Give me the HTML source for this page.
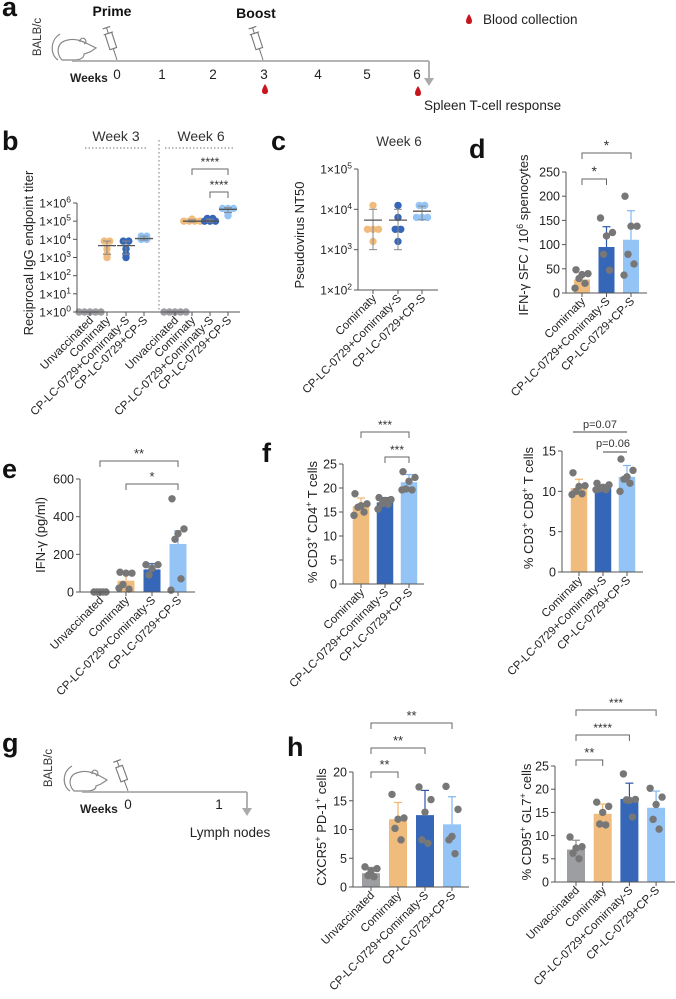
<!DOCTYPE html>
<html><head><meta charset="utf-8">
<style>
html,body{margin:0;padding:0;background:#fff;}
svg{display:block;font-family:"Liberation Sans",sans-serif;}
</style></head>
<body>
<svg id="fig" width="676" height="999" viewBox="0 0 676 999" xmlns="http://www.w3.org/2000/svg"></svg>
<script>
// ---------------- DATA ----------------
const catsB = ["Unvaccinated","Comirnaty","CP-LC-0729+Comirnaty-S","CP-LC-0729+CP-S","Unvaccinated","Comirnaty","CP-LC-0729+Comirnaty-S","CP-LC-0729+CP-S"];
const bPoints = [[1,1,1,1,1],[8000,8000,3000,1000,1500],[8000,8000,3000,1000,1500],[15000,15000,10000,10000],[1,1,1,1,1],[130000,100000,100000,100000,100000],[140000,140000,100000,100000,100000],[500000,500000,500000,300000,200000]];
const bMean = [1,4500,4500,11000,1,100000,100000,450000];
const bLo = [1,1500,1500,9000,1,90000,90000,300000];
const bHi = [1,8000,8000,15000,1,120000,130000,550000];
const bTicks = [0,1,2,3,4,5,6];

const cats3 = ["Comirnaty","CP-LC-0729+Comirnaty-S","CP-LC-0729+CP-S"];
const cats4 = ["Unvaccinated","Comirnaty","CP-LC-0729+Comirnaty-S","CP-LC-0729+CP-S"];
const cPoints = [[12500,3200,3200,1600,3200],[12500,6300,3200,3200,1600],[12500,12500,6300,6300,6300]];
const cMean = [5400,5400,9000];
const cLo = [1000,1000,5500];
const cHi = [10000,10000,12000];
const cTicks = [2,3,4,5];

const dBars = [28,95,110];
const dErr = [36,137,170];
const dPoints = [[48,40,38,30,20,10],[155,125,118,80,47],[200,138,138,80,60,37]];
const dTicks = [0,50,100,150,200,250];

const eBars = [0,60,120,255];
const eErr = [0,100,150,325];
const ePoints = [[0,0,0,0,0],[105,100,100,40,15,20],[145,145,125,90],[495,335,310,280,70,10]];
const eTicks = [0,200,400,600];

const f4Bars = [16.2,17.0,21.2];
const f4Err = [17.9,18.0,22.8];
const f4Points = [[18.8,16.7,16.3,16.0,15.0,14.3],[18.0,17.6,17.4,16.7,16.6,15.6],[23.4,22.2,21.4,19.8,19.6,19.6]];
const f4Ticks = [0,5,10,15,20,25];

const f8Bars = [10.4,10.4,11.8];
const f8Err = [11.5,10.8,13.2];
const f8Points = [[12.3,10.7,10.6,10.0,9.7,9.6],[11.0,10.8,10.5,10.3,10.2,10.2],[14.0,12.6,11.8,11.5,11.0,10.0]];
const f8Ticks = [0,5,10,15];

const hLBars = [2.4,11.8,12.5,10.9];
const hLErr = [3.4,14.7,16.8,15.7];
const hLPoints = [[3.5,3.2,2.8,2.0,1.8],[16.1,12.0,11.8,10.2,8.2],[17.4,15.2,13.0,8.2,7.6],[17.5,13.5,8.8,8.2,5.8]];
const hLTicks = [0,5,10,15,20];

const hRBars = [7.0,14.7,17.9,16.0];
const hRErr = [9.0,16.8,21.3,19.6];
const hRPoints = [[9.7,7.6,7.3,6.2,5.0],[17.2,16.3,15.0,12.5,12.3],[23.3,17.8,17.6,17.7,14.0],[20.2,18.3,16.7,13.5,11.4]];
const hRTicks = [0,5,10,15,20,25];

const weeksA = ["0","1","2","3","4","5","6"];

// ---------------- HELPERS ----------------
const NS = "http://www.w3.org/2000/svg";
const svg = document.getElementById("fig");
const GREY="#9d9ea2", ORANGE="#f0bc7e", DBLUE="#3566b8", LBLUE="#93c4f5";
const ERRC={ "#9d9ea2":"#8a8b8f","#f0bc7e":"#f2b466","#3566b8":"#2d58a5","#93c4f5":"#7fb6f0"};
function mk(tag, attrs, parent){
  const e=document.createElementNS(NS,tag);
  for(const k in attrs) e.setAttribute(k,attrs[k]);
  (parent||svg).appendChild(e);
  return e;
}
function line(x1,y1,x2,y2,stroke,w,parent){
  const l=mk("line",{x1:x1,y1:y1,x2:x2,y2:y2,stroke:stroke||"#555","stroke-width":w||1},parent);
  return l;
}
function txt(x,y,s,size,anchor,parent,weight,fill){
  const t=mk("text",{x:x,y:y,"font-size":size,"text-anchor":anchor||"start",fill:fill||"#222","font-weight":weight||"normal"},parent);
  t.textContent=s;
  return t;
}
function panelLetter(x,y,s){
  const t=txt(x,y,s,27,"start",svg,"bold","#111");
  
  
}
function yLabel(g,cx,cy,parts,size){
  const t=mk("text",{x:0,y:0,"font-size":size,"text-anchor":"middle",fill:"#222",transform:"translate("+cx+","+cy+") rotate(-90)"},g);
  
  
  parts.forEach(p=>{
    const s=mk("tspan",{},t);
    if(p[1]){ s.setAttribute("baseline-shift","super"); s.setAttribute("font-size",size*0.7); }
    s.textContent=p[0];
  });
}
function catLabels(g,xs,y0,labels,size){
  labels.forEach((l,i)=>{
    const t=mk("text",{x:0,y:0,"font-size":size,"text-anchor":"end",fill:"#222",transform:"translate("+(xs[i]+4)+","+(y0+9)+") rotate(-45)"},g);
    
    
    t.textContent=l;
  });
}
function bracket(g,x1,x2,y,label,size){
  const p=mk("path",{d:"M"+x1+","+(y+6)+"V"+y+"H"+x2+"V"+(y+6),fill:"none",stroke:"#666","stroke-width":1},g);
  
  
  const t=txt((x1+x2)/2,y-3,label,size||12,"middle",g,"normal","#333");
  
  
}
const JIT=[-6,6,0,-3,3,-7,7];

function barChart(o){
  const g=mk("g",{});
  
  
  const vmax=o.ticks[o.ticks.length-1];
  const Y=v=>o.y0-(v/vmax)*(o.y0-o.yTop);
  const xs=o.bars.map((_,i)=>o.first+i*o.step);
  o.bars.forEach((v,i)=>{
    const r=mk("rect",{x:xs[i]-o.bw/2,y:Y(v),width:o.bw,height:o.y0-Y(v),fill:o.colors[i]},g);
    
    
    const ec=ERRC[o.colors[i]];
    const e1=line(xs[i],Y(v),xs[i],Y(o.err[i]),ec,1.2,g);
    
    
    const e2=line(xs[i]-4,Y(o.err[i]),xs[i]+4,Y(o.err[i]),ec,1.2,g);
    
    
  });
  o.points.forEach((arr,i)=>{
    arr.forEach((v,j)=>{
      const c=mk("circle",{cx:xs[i]+JIT[j%JIT.length],cy:Y(v),r:3.7,fill:"#777"},g);
      
      
    });
  });
  const ax=line(o.ax,o.yTop,o.ax,o.y0,"#555",1,g);
  
  
  const xa=line(o.ax,o.y0,o.xEnd,o.y0,"#555",1,g);
  
  
  o.ticks.forEach(t=>{
    const tk=line(o.ax-4,Y(t),o.ax,Y(t),"#555",1,g);
    
    
    const tl=txt(o.ax-6,Y(t)+4.5,String(t),12.5,"end",g);
    
    
  });
  xs.forEach(x=>{
    const tk=line(x,o.y0,x,o.y0+4,"#555",1,g);
    
    
  });
  catLabels(g,xs,o.y0,o.cats,11.5);
  yLabel(g,o.ylx,o.yly,o.ylabel,13);
  (o.brackets||[]).forEach(b=>bracket(g,xs[b[0]],xs[b[1]],b[2],b[3],b[4]));
  return g;
}

function logChart(o){
  const g=mk("g",{});
  
  
  const e0=o.ticks[0], e1=o.ticks[o.ticks.length-1];
  const Y=v=>o.y0-(Math.log10(v)-e0)/(e1-e0)*(o.y0-o.yTop);
  const xs=o.xs;
  o.points.forEach((arr,i)=>{
    const col=o.colors[i];
    const cnt={};
    arr.forEach((v,j)=>{
      const k=v; cnt[k]=(cnt[k]||0)+1;
      const n=arr.filter(a=>a===v).length;
      const off=(cnt[k]-1-(n-1)/2)*5.5;
      const c=mk("circle",{cx:xs[i]+off,cy:Y(v),r:3.7,fill:col},g);
      
      
    });
    if(o.lo[i]!==o.hi[i]){
      const ev=line(xs[i],Y(o.lo[i]),xs[i],Y(o.hi[i]),"#888",1,g);
      
      
      [o.lo[i],o.hi[i]].forEach(v=>{
        const cp=line(xs[i]-4,Y(v),xs[i]+4,Y(v),"#888",1,g);
        
        
      });
    }
    const m=line(xs[i]-9,Y(o.mean[i]),xs[i]+9,Y(o.mean[i]),"#555",1.3,g);
    
    
  });
  const ax=line(o.ax,o.yTop,o.ax,o.y0,"#555",1,g);
  
  
  const xa=line(o.ax,o.y0,o.xEnd,o.y0,"#555",1,g);
  
  
  o.ticks.forEach(t=>{
    const y=o.y0-(t-e0)/(e1-e0)*(o.y0-o.yTop);
    const tk=line(o.ax-4,y,o.ax,y,"#555",1,g);
    
    
    const tl=mk("text",{x:o.ax-6,y:y+4.5,"font-size":12,"text-anchor":"end",fill:"#222"},g);
    
    
    const s1=mk("tspan",{},tl); s1.textContent="1×10";
    const s2=mk("tspan",{"baseline-shift":"super","font-size":8.5},tl); s2.textContent=String(t);
  });
  xs.forEach(x=>{
    const tk=line(x,o.y0,x,o.y0+4,"#555",1,g);
    
    
  });
  catLabels(g,xs,o.y0,o.cats,11.5);
  yLabel(g,o.ylx,o.yly,o.ylabel,13);
  (o.brackets||[]).forEach(b=>bracket(g,xs[b[0]],xs[b[1]],b[2],b[3],b[4]));
  return g;
}

// ---------------- PANEL A ----------------
(function(){
  panelLetter(2,16,"a");
  const g=mk("g",{});
  
  
  const strain=mk("text",{x:0,y:0,"font-size":11.5,"text-anchor":"middle",fill:"#333",transform:"translate(41,37) rotate(-90)"},g);
  
  
  strain.textContent="BALB/c";
  const mouse=mk("path",{d:"M60,34 C50,40 50,55 58,60 M62,60 C56,54 56,42 68,40 C76,38 84,42 88,44 L96,48 L90,52 L84,54 C84,58 80,60 74,60 Z M80,42 a3,3 0 1 1 4,2",fill:"none",stroke:"#888","stroke-width":1.2},g);
  
  
  const tl=line(72,61,429,61,"#aaa",1.8,g);
  
  
  const dn=line(429,61,429,80,"#aaa",1.8,g);
  
  
  const ar=mk("path",{d:"M424,78 L434,78 L429,86 Z",fill:"#aaa"},g);
  
  
  const wk=txt(70,82,"Weeks",12,"start",g,"bold","#222");
  
  
  const wx=[117,162,213,264,318,367,417];
  weeksA.forEach((w,i)=>{
    const t=txt(wx[i],79,w,13.5,"middle",g);
    
    
  });
  [[117,60,"Prime",112,16],[263,60,"Boost",256,18]].forEach(s=>{
    const sy=mk("g",{transform:"translate("+s[0]+","+s[1]+") rotate(-18)"},g);
    
    
    line(0,0,0,-12,"#777",1,sy);
    mk("rect",{x:-3.5,y:-28,width:7,height:16,fill:"none",stroke:"#777","stroke-width":1.1},sy);
    line(0,-28,0,-34,"#777",1,sy);
    line(-4,-34,4,-34,"#777",1.2,sy);
    line(-5,-28,5,-28,"#777",1,sy);
    const lb=txt(s[3],s[4],s[2],14,"middle",g,"bold","#111");
    
    
  });
  [[265,84],[418,86],[469,14]].forEach(d=>{
    const dr=mk("path",{d:"M"+d[0]+","+d[1]+" C"+(d[0]-4)+","+(d[1]+6)+" "+(d[0]-4)+","+(d[1]+10)+" "+d[0]+","+(d[1]+10)+" C"+(d[0]+4)+","+(d[1]+10)+" "+(d[0]+4)+","+(d[1]+6)+" "+d[0]+","+d[1]+" Z",fill:"#c8141c"},g);
    
    
  });
  const bc=txt(483,24,"Blood collection",13.5,"start",g);
  
  
  const sp=txt(424,110,"Spleen T-cell response",13.5,"start",g);
  
  
})();

// ---------------- PANEL B ----------------
panelLetter(2,150,"b");
(function(){
  const g=logChart({name:"panel-b-igg-titer",ax:77,y0:312,yTop:203,xEnd:240,xs:[90,107,126,144,175,192,210,228],
    points:bPoints,mean:bMean,lo:bLo,hi:bHi,ticks:bTicks,cats:catsB,
    colors:[GREY,ORANGE,DBLUE,LBLUE,GREY,ORANGE,DBLUE,LBLUE],
    ylx:33,yly:253,ylabel:[["Reciprocal IgG endpoint titer",false]],
    brackets:[[5,7,169,"****",12],[6,7,192,"****",12]]});
  const dv=line(159,140,159,312,"#777",1,g);
  dv.setAttribute("stroke-dasharray","1.5,2.5");
  
  
  [[116,"Week 3",85,148],[201,"Week 6",165,235]].forEach(w=>{
    const t=txt(w[0],141,w[1],14,"middle",g,"normal","#333");
    
    
    const l=line(w[2],148,w[3],148,"#777",1,g);
    l.setAttribute("stroke-dasharray","1.5,2");
    
    
  });
})();

// ---------------- PANEL C ----------------
panelLetter(271,150,"c");
(function(){
  const g=logChart({name:"panel-c-nt50",ax:358,y0:290,yTop:169,xEnd:438,xs:[373,398,422],
    points:cPoints,mean:cMean,lo:cLo,hi:cHi,ticks:cTicks,cats:cats3,colors:[ORANGE,DBLUE,LBLUE],
    ylx:304,yly:235,ylabel:[["Pseudovirus NT50",false]]});
  const t=txt(399,146,"Week 6",13.5,"middle",g,"normal","#333");
  
  
})();

// ---------------- PANEL D ----------------
panelLetter(469,158,"d");
barChart({name:"panel-d-ifn-sfc",ax:566,y0:293,yTop:172,xEnd:647,first:582,step:24.5,bw:16,
  bars:dBars,err:dErr,points:dPoints,ticks:dTicks,cats:cats3,colors:[ORANGE,DBLUE,LBLUE],
  ylx:528,yly:235,ylabel:[["IFN-γ SFC / 10",false],["6",true],[" spenocytes",false]],
  brackets:[[0,1,179,"*",14],[0,2,153,"*",14]]});

// ---------------- PANEL E ----------------
panelLetter(2,478,"e");
barChart({name:"panel-e-ifn-elisa",ax:80,y0:592,yTop:479,xEnd:195,first:100,step:26,bw:17,
  bars:eBars,err:eErr,points:ePoints,ticks:eTicks,cats:cats4,colors:[GREY,ORANGE,DBLUE,LBLUE],
  ylx:45,yly:535,ylabel:[["IFN-γ (pg/ml)",false]],
  brackets:[[0,3,461,"**",13],[1,3,484,"*",13]]});

// ---------------- PANEL F ----------------
panelLetter(262,462,"f");
barChart({name:"panel-f-cd4",ax:343,y0:584,yTop:464,xEnd:424,first:361,step:24,bw:16.5,
  bars:f4Bars,err:f4Err,points:f4Points,ticks:f4Ticks,cats:cats3,colors:[ORANGE,DBLUE,LBLUE],
  ylx:317,yly:522,ylabel:[["% CD3",false],["+",true],[" CD4",false],["+",true],[" T cells",false]],
  brackets:[[0,2,432,"***",12],[1,2,457,"***",12]]});
barChart({name:"panel-f-cd8",ax:562,y0:572,yTop:451,xEnd:643,first:579,step:24,bw:16.5,
  bars:f8Bars,err:f8Err,points:f8Points,ticks:f8Ticks,cats:cats3,colors:[ORANGE,DBLUE,LBLUE],
  ylx:533,yly:508,ylabel:[["% CD3",false],["+",true],[" CD8",false],["+",true],[" T cells",false]]});
(function(){
  const g=mk("g",{});
  
  
  const l1=line(573,432,627,432,"#444",1,g);
  
  
  const t1=txt(600,428,"p=0.07",11,"middle",g,"normal","#333");
  
  
  const l2=line(603,452,627,452,"#444",1,g);
  
  
  const t2=txt(613,447,"p=0.06",11,"middle",g,"normal","#333");
  
  
})();

// ---------------- PANEL G ----------------
panelLetter(2,752,"g");
(function(){
  const g=mk("g",{});
  
  
  const strain=mk("text",{x:0,y:0,"font-size":11.5,"text-anchor":"middle",fill:"#333",transform:"translate(52,768) rotate(-90)"},g);
  
  
  strain.textContent="BALB/c";
  const mouse=mk("path",{d:"M72,766 C62,772 62,786 70,791 M74,791 C68,785 68,774 80,772 C88,770 96,774 100,776 L107,780 L101,784 L96,786 C96,790 92,791 86,791 Z M92,774 a3,3 0 1 1 4,2",fill:"none",stroke:"#888","stroke-width":1.2},g);
  
  
  const tl=line(82,792,247,792,"#aaa",1.8,g);
  
  
  const dn=line(247,792,247,810,"#aaa",1.8,g);
  
  
  const ar=mk("path",{d:"M242,808 L252,808 L247,816 Z",fill:"#aaa"},g);
  
  
  const wk=txt(80,813,"Weeks",12,"start",g,"bold","#222");
  
  
  const w0=txt(128,809,"0",13.5,"middle",g);
  
  
  const w1=txt(219,809,"1",13.5,"middle",g);
  
  
  const sy=mk("g",{transform:"translate(128,791) rotate(-20)"},g);
  
  
  line(0,0,0,-11,"#777",1,sy);
  mk("rect",{x:-3.5,y:-26,width:7,height:15,fill:"none",stroke:"#777","stroke-width":1.1},sy);
  line(0,-26,0,-32,"#777",1,sy);
  line(-4,-32,4,-32,"#777",1.2,sy);
  const ln=txt(230,837,"Lymph nodes",13.5,"middle",g);
  
  
})();

// ---------------- PANEL H ----------------
panelLetter(287,756,"h");
barChart({name:"panel-h-tfh",ax:353,y0:887,yTop:772,xEnd:469,first:371,step:27,bw:18,
  bars:hLBars,err:hLErr,points:hLPoints,ticks:hLTicks,cats:cats4,colors:[GREY,ORANGE,DBLUE,LBLUE],
  ylx:326,yly:827,ylabel:[["CXCR5",false],["+",true],[" PD-1",false],["+",true],[" cells",false]],
  brackets:[[0,3,723,"**",13],[0,2,748,"**",13],[0,1,772,"**",13]]});
barChart({name:"panel-h-gc-b",ax:555,y0:882,yTop:766,xEnd:675,first:576,step:26.7,bw:18,
  bars:hRBars,err:hRErr,points:hRPoints,ticks:hRTicks,cats:cats4,colors:[GREY,ORANGE,DBLUE,LBLUE],
  ylx:531,yly:822,ylabel:[["% CD95",false],["+",true],[" GL7",false],["+",true],[" cells",false]],
  brackets:[[0,3,710,"***",12],[0,2,735,"****",12],[0,1,760,"**",13]]});
</script>
</body></html>
